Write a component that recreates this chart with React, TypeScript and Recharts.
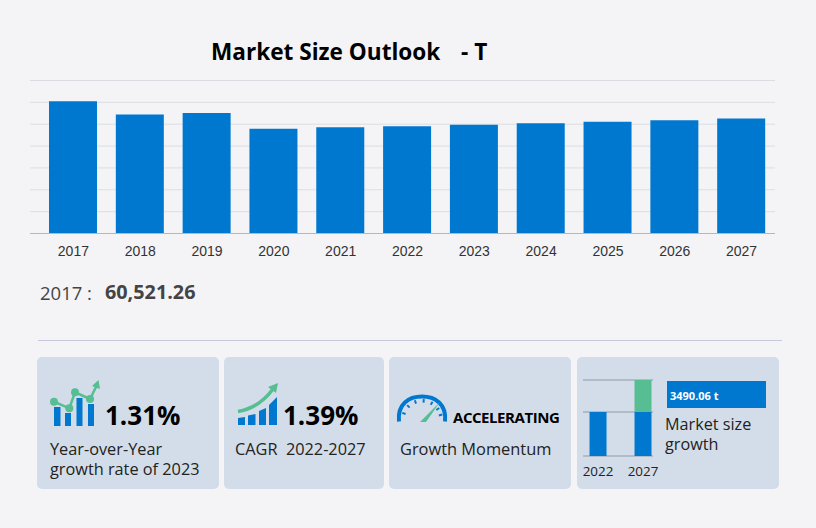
import { BarChart, Bar, XAxis, YAxis, CartesianGrid } from 'recharts';

const years = ['2017', '2018', '2019', '2020', '2021', '2022', '2023', '2024', '2025', '2026', '2027'];
const marketSize = [60521.26, 54400, 55080, 47970, 48650, 49100, 49743, 50440, 51150, 51860, 52590];
const yTicks = [0, 10000, 20000, 30000, 40000, 50000, 60000, 70000];

const growthYears = [2022, 2027];
const growthFloor = 44300;
const growthStart = 49100;
const growthEnd = 52590;

const outlook = years.map((year, i) => ({ year, value: marketSize[i] }));
const growthData = growthYears.map((year) => ({
  year,
  base: [growthFloor, growthStart],
  added: year === 2027 ? [growthStart, growthEnd] : null,
}));

const BLUE = '#0078d0';
const GREEN = '#57bd92';
const CARD = '#d3dde9';
const SANS = '"Open Sans", sans-serif';
const gaugeTicks = [-70, -45, -20, 5, 30, 55, 75];

function Cards() {
  return (
    <svg width={816} height={528} style={{ position: 'absolute', left: 0, top: 0 }} fontFamily={SANS}>
      <text x={211} y={60} fontSize={22.6} fontWeight={700} fill="#000">Market Size Outlook</text>
      <text x={461} y={60} fontSize={22.6} fontWeight={700} fill="#000">- T</text>
      <text x={40} y={300} fontSize={18.5} fill="#444">2017 :</text>
      <text x={105} y={299} fontSize={19.8} fontWeight={700} fill="#444">60,521.26</text>
      <line x1={38} x2={782} y1={340.5} y2={340.5} stroke="#c6c9dc" />

      <rect x={37} y={357} width={182} height={132} rx={5} fill={CARD} />
      <rect x={224} y={357} width={160} height={132} rx={5} fill={CARD} />
      <rect x={389} y={357} width={182} height={132} rx={5} fill={CARD} />
      <rect x={577} y={357} width={202} height={132} rx={5} fill={CARD} />

      {/* yoy icon */}
      <g fill={BLUE}>
        <rect x={54} y={407} width={6.5} height={19} />
        <rect x={65} y={413} width={6} height={13} />
        <rect x={76.5} y={398} width={6} height={28} />
        <rect x={88} y={404} width={6} height={22} />
      </g>
      <polyline points="54,401.7 69.3,408.3 75,392.3 90,399 97,385" fill="none" stroke={GREEN} strokeWidth={2.5} />
      <g fill={GREEN}>
        <circle cx={54} cy={401.7} r={4} />
        <circle cx={69.3} cy={408.3} r={4} />
        <circle cx={75} cy={392.3} r={4} />
        <circle cx={90} cy={399} r={4} />
        <path d="M98.5 380 L100 389 L92 386 Z" />
      </g>
      <text x={105} y={425} fontSize={26} fontWeight={700} fill="#000">1.31%</text>
      <text x={50} y={455} fontSize={16.3} fill="#222">Year-over-Year</text>
      <text x={50} y={475} fontSize={16.3} fill="#222">growth rate of 2023</text>

      {/* cagr icon */}
      <path d="M238 418 L245 417 V425 H238 Z M248 415.5 L255.5 414 V425 H248 Z M259 411 L266 408 V425 H259 Z M269 405 L277 397 V425 H269 Z" fill={BLUE} />
      <path d="M238 411.5 Q259 408 273 389" fill="none" stroke={GREEN} strokeWidth={3.5} />
      <path d="M278 383 L276 393 L268 387 Z" fill={GREEN} />
      <text x={283} y={425} fontSize={26} fontWeight={700} fill="#000">1.39%</text>
      <text x={235} y={455} fontSize={16.3} fill="#222" xmlSpace="preserve">CAGR  2022-2027</text>

      {/* gauge icon */}
      <path d="M399 421.5 C397 404 409 396.5 422 396.5 C435 396.5 447 404 445 421.5" fill="none" stroke={BLUE} strokeWidth={4} />
      {gaugeTicks.map((a) => (
        <line key={a} x1={422} y1={399} x2={422} y2={402.5} stroke={BLUE} strokeWidth={2} transform={`rotate(${a} 422 420)`} />
      ))}
      <path d="M420 422 L440 402 L426 422 Z" fill={GREEN} />
      <text x={453} y={423} fontSize={15} fontWeight={700} fill="#000" letterSpacing={-0.45}>ACCELERATING</text>
      <text x={400} y={455} fontSize={16.4} fill="#222">Growth Momentum</text>

      <rect x={667} y={381} width={99} height={27} fill={BLUE} />
      <text x={670} y={400} fontSize={11} fontWeight={700} fill="#fff">3490.06 t</text>
      <text x={665} y={430} fontSize={16.2} fill="#222">Market size</text>
      <text x={665} y={450} fontSize={16.2} fill="#222">growth</text>
    </svg>
  );
}

export default function App() {
  return (
    <div style={{ position: 'fixed', left: 0, top: 0, width: 816, height: 528, background: '#f4f4f7', overflow: 'hidden' }}>
      <Cards />
      <div style={{ position: 'absolute', left: 0, top: 0 }}>
        <BarChart width={816} height={300} data={outlook} margin={{ top: 80.5, right: 41, bottom: 0, left: 30 }} barCategoryGap={0}>
          <CartesianGrid vertical={false} stroke="#dcdde2" />
          <XAxis
            dataKey="year"
            height={66.5}
            padding={{ left: 10, right: 0 }}
            interval={0}
            tickLine={false}
            axisLine={{ stroke: '#b4b7bf' }}
            tickMargin={7}
            tick={{ fontFamily: '"Liberation Sans", sans-serif', fontSize: 14, fill: '#333' }}
          />
          <YAxis hide domain={[0, 70000]} ticks={yTicks} interval={0} />
          <Bar dataKey="value" fill={BLUE} barSize={48} isAnimationActive={false} />
        </BarChart>
      </div>
      <div style={{ position: 'absolute', left: 0, top: 360 }}>
        <BarChart width={700} height={125} data={growthData} margin={{ top: 20, right: 47, bottom: 0, left: 583 }} barGap={-17}>
          <CartesianGrid vertical={false} stroke="#8e9bab" />
          <XAxis
            dataKey="year"
            type="number"
            domain={[2020.33, 2028.11]}
            ticks={growthYears}
            allowDataOverflow
            height={29}
            tickLine={false}
            axisLine={false}
            tickMargin={4}
            tick={{ fontFamily: SANS, fontSize: 13.4, fill: '#222' }}
          />
          <YAxis hide domain={[growthFloor, growthEnd]} ticks={[growthStart, growthEnd]} interval={0} allowDataOverflow />
          <Bar dataKey="base" fill={BLUE} barSize={17} isAnimationActive={false} />
          <Bar dataKey="added" fill={GREEN} barSize={17} isAnimationActive={false} />
        </BarChart>
      </div>
    </div>
  );
}
